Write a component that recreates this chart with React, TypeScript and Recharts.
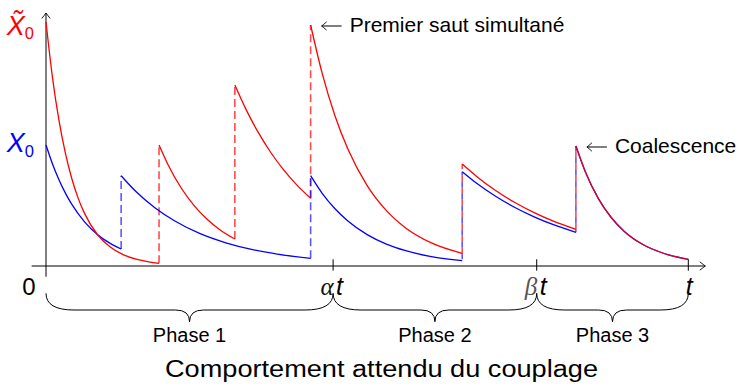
import React from 'react';
import { ComposedChart, Line, XAxis, YAxis, ReferenceLine, ReferenceDot } from 'recharts';

// ---- data (time in % of t, value in chart units) ----
const redSeg1 = [
  { t: 0, v: 244 }, { t: 1, v: 188.9 }, { t: 2, v: 146.3 }, { t: 3, v: 113.3 }, { t: 4, v: 87.7 },
  { t: 5, v: 67.9 }, { t: 6, v: 52.6 }, { t: 8, v: 31.5 }, { t: 10, v: 18.9 }, { t: 12, v: 11.3 },
  { t: 14, v: 6.8 }, { t: 16, v: 4.1 }, { t: 17.6, v: 2.7 },
];
const redSeg2 = [
  { t: 17.6, v: 121 }, { t: 19, v: 101.3 }, { t: 21, v: 78.5 }, { t: 23, v: 60.9 },
  { t: 25, v: 47.2 }, { t: 27, v: 36.6 }, { t: 29.4, v: 27 },
];
const redSeg3 = [
  { t: 29.4, v: 181 }, { t: 31, v: 158.4 }, { t: 33, v: 134.1 }, { t: 35, v: 113.5 },
  { t: 37, v: 96.1 }, { t: 39, v: 81.4 }, { t: 41.2, v: 67.7 },
];
const redSeg4 = [
  { t: 41.2, v: 241 }, { t: 43, v: 192.6 }, { t: 45, v: 150 }, { t: 47, v: 116.9 }, { t: 50, v: 80.4 },
  { t: 53, v: 55.4 }, { t: 56, v: 38.1 }, { t: 60, v: 23.1 }, { t: 64.8, v: 12.7 },
];
const redSeg5 = [
  { t: 64.8, v: 102 }, { t: 67, v: 89.8 }, { t: 70, v: 75.5 }, { t: 73, v: 63.5 },
  { t: 76, v: 53.4 }, { t: 79, v: 44.9 }, { t: 82.5, v: 36.7 },
];
const blueSeg1 = [
  { t: 0, v: 121 }, { t: 1, v: 102.3 }, { t: 2, v: 86.5 }, { t: 3, v: 73.1 }, { t: 4, v: 61.8 },
  { t: 6, v: 44.2 }, { t: 8, v: 31.6 }, { t: 10, v: 22.6 }, { t: 11.7, v: 17 },
];
const blueSeg2 = [
  { t: 11.7, v: 90.3 }, { t: 14, v: 74.5 }, { t: 17, v: 58 }, { t: 20, v: 45.2 }, { t: 24, v: 32.3 },
  { t: 28, v: 23.2 }, { t: 32, v: 16.6 }, { t: 36, v: 11.9 }, { t: 41.2, v: 7.7 },
];
const blueSeg3 = [
  { t: 41.2, v: 90.3 }, { t: 43, v: 72.7 }, { t: 45, v: 57.2 }, { t: 47, v: 45 }, { t: 50, v: 31.4 },
  { t: 53, v: 21.9 }, { t: 56, v: 15.3 }, { t: 60, v: 9.4 }, { t: 64.8, v: 5.3 },
];
const blueSeg4 = [
  { t: 64.8, v: 94.3 }, { t: 67, v: 83 }, { t: 70, v: 69.7 }, { t: 73, v: 58.5 },
  { t: 76, v: 49.2 }, { t: 79, v: 41.3 }, { t: 82.5, v: 33.7 },
];
const commonSeg = [
  { t: 82.5, v: 120 }, { t: 84, v: 93.7 }, { t: 86, v: 67.4 }, { t: 88, v: 48.5 }, { t: 90, v: 34.8 },
  { t: 93, v: 21.2 }, { t: 96, v: 13 }, { t: 100, v: 6.7 },
];
// jumps
const redJumps = [
  [{ t: 17.6, v: 2.7 }, { t: 17.6, v: 121 }],
  [{ t: 29.4, v: 27 }, { t: 29.4, v: 181 }],
  [{ t: 41.2, v: 67.7 }, { t: 41.2, v: 241 }],
  [{ t: 64.8, v: 12.7 }, { t: 64.8, v: 102 }],
  [{ t: 82.5, v: 36.7 }, { t: 82.5, v: 120 }],
];
const blueJumps = [
  [{ t: 11.7, v: 17 }, { t: 11.7, v: 90.3 }],
  [{ t: 41.2, v: 7.7 }, { t: 41.2, v: 90.3 }],
  [{ t: 64.8, v: 5.3 }, { t: 64.8, v: 94.3 }],
  [{ t: 82.5, v: 33.7 }, { t: 82.5, v: 120 }],
];
const blueJumpOffsets = [0, 0, 10.6, 3];

const xTicks = [0, 44.7, 76.4, 100];
const xTickLabels = ['0', 'αt', 'βt', 't'];
const yTicks = [121, 244];
const yTickLabels = ['X', 'X\u0303'];
const phaseBounds = [[0, 44.7], [44.7, 76.4], [76.4, 100]];
const phaseLabels = ['Phase 1', 'Phase 2', 'Phase 3'];
const annotations = [
  { t: 41.2, v: 241, text: 'Premier saut simultané' },
  { t: 82.5, v: 120, text: 'Coalescence' },
];
const title = 'Comportement attendu du couplage';

const SANS = "'Liberation Sans', Arial, Helvetica, sans-serif";
const SERIF = "'Liberation Serif', 'DejaVu Serif', serif";
const RED = '#ff0000';
const BLUE = '#0000ff';

const XTick = (props: any) => {
  const { x, y, payload } = props;
  const i = xTicks.indexOf(payload.value);
  const lab = xTickLabels[i];
  if (i === 0) {
    return (
      <text x={x - 17} y={y + 29} fontSize={24} textAnchor="middle" fontFamily={SANS} fill="#000">
        {lab}
      </text>
    );
  }
  const mark = <line x1={x} x2={x} y1={y - 6.7} y2={y + 4.7} stroke="#000" strokeWidth={1} />;
  if (lab.length === 1) {
    return (
      <g>
        {mark}
        <text x={x + 1} y={y + 29} fontSize={25} textAnchor="middle" fontFamily={SANS} fontStyle="italic" fill="#000">
          {lab}
        </text>
      </g>
    );
  }
  const greek = lab.slice(0, 1);
  return (
    <g>
      {mark}
      <text x={x + 0.5} y={y + 29} fontSize={25} textAnchor="end" fontFamily={SERIF} fontStyle="italic" fill={greek === 'β' ? '#555' : '#111'}>
        {greek}
      </text>
      <text x={x + 3} y={y + 29} fontSize={25} textAnchor="start" fontFamily={SANS} fontStyle="italic" fill="#000">
        {lab.slice(1)}
      </text>
    </g>
  );
};

const YTick = (props: any) => {
  const { x, y, payload } = props;
  const i = yTicks.indexOf(payload.value);
  const tilde = i === 1;
  const color = tilde ? RED : BLUE;
  return (
    <text x={x - 12} y={y + (tilde ? 13 : 6.7)} fill={color} fontFamily={SANS} textAnchor="end">
      <tspan fontSize={27} fontStyle="italic">{yTickLabels[i]}</tspan>
      <tspan fontSize={16.5} dy={tilde ? 4.3 : 5}>0</tspan>
    </text>
  );
};

const ArrowLine = (p: any) => {
  const { x1, y1, x2, y2 } = p;
  const ang = Math.atan2(y2 - y1, x2 - x1);
  const L = 5.5;
  const W = 4.2;
  const bx = x2 - L * Math.cos(ang);
  const by = y2 - L * Math.sin(ang);
  const px = -Math.sin(ang) * W;
  const py = Math.cos(ang) * W;
  const cx = x2 - 1.5 * Math.cos(ang);
  const cy = y2 - 1.5 * Math.sin(ang);
  return (
    <g>
      <line x1={x1} y1={y1} x2={x2} y2={y2} stroke="#000" strokeWidth={1} />
      <path
        d={`M${bx + px},${by + py} Q${cx + px * 0.25},${cy + py * 0.25} ${x2},${y2} Q${cx - px * 0.25},${cy - py * 0.25} ${bx - px},${by - py}`}
        fill="none"
        stroke="#000"
        strokeWidth={0.9}
      />
    </g>
  );
};

const Brace = (p: any) => {
  const { x1, x2, y1, label } = p;
  const mid = (x1 + x2) / 2;
  const yb = y1 + 16.7;
  const yt = y1 + 28.4;
  const r1 = Math.min(28, (x2 - x1) / 5);
  const r2 = 14;
  const d = `M${x1},${y1} Q${x1},${yb} ${x1 + r1},${yb} L${mid - r2},${yb} Q${mid},${yb} ${mid},${yt} Q${mid},${yb} ${mid + r2},${yb} L${x2 - r1},${yb} Q${x2},${yb} ${x2},${y1}`;
  return (
    <g>
      <path d={d} fill="none" stroke="#000" strokeWidth={1} />
      <text x={mid} y={y1 + 48.4} textAnchor="middle" fontSize={20} fontFamily={SANS} fill="#000">
        {label}
      </text>
    </g>
  );
};

const AnnLabel = (props: any) => {
  const { viewBox, text } = props;
  const x = viewBox.x + (viewBox.width || 0) / 2;
  const y = viewBox.y + (viewBox.height || 0) / 2;
  const ay = y + 1;
  const a0 = x + 11;
  const a1 = x + 31;
  return (
    <g>
      <line x1={a0} y1={ay} x2={a1} y2={ay} stroke="#000" strokeWidth={1} />
      <path
        d={`M${a0 + 5},${ay - 4.2} Q${a0 + 1.5},${ay - 1} ${a0},${ay} Q${a0 + 1.5},${ay + 1} ${a0 + 5},${ay + 4.2}`}
        fill="none"
        stroke="#000"
        strokeWidth={0.9}
      />
      <text x={x + 39} y={y + 7.3} fontSize={21} fontFamily={SANS} fill="#000">
        {text}
      </text>
    </g>
  );
};

export default function App() {
  return (
    <div style={{ position: 'absolute', left: 0, top: 0, width: 738, height: 388, background: '#fff', fontFamily: SANS }}>
      <ComposedChart width={738} height={388} margin={{ top: 16, right: 49.7, bottom: 92, left: 0 }}>
        <XAxis
          type="number"
          dataKey="t"
          domain={[0, 100]}
          ticks={xTicks}
          interval={0}
          axisLine={false}
          tickLine={false}
          tickSize={0}
          tickMargin={0}
          height={30}
          tick={<XTick />}
        />
        <YAxis
          type="number"
          domain={[0, 250]}
          ticks={yTicks}
          interval={0}
          axisLine={false}
          tickLine={false}
          tickSize={0}
          tickMargin={0}
          width={46}
          tick={<YTick />}
        />
        <ReferenceLine segment={[{ x: -2.23, y: 0 }, { x: 102.65, y: 0 }]} ifOverflow="visible" shape={ArrowLine} />
        <ReferenceLine segment={[{ x: 0, y: -10.7 }, { x: 0, y: 253 }]} ifOverflow="visible" shape={ArrowLine} />
        {phaseBounds.map((b, i) => (
          <ReferenceLine
            key={'brace' + i}
            segment={[{ x: b[0], y: -27.3 }, { x: b[1], y: -27.3 }]}
            ifOverflow="visible"
            shape={(p: any) => <Brace {...p} label={phaseLabels[i]} />}
          />
        ))}
        {redJumps.map((d, i) => (
          <Line
            key={'rj' + i}
            data={d}
            dataKey="v"
            type="linear"
            stroke={RED}
            strokeOpacity={0.7}
            strokeWidth={1.6}
            strokeDasharray={i >= 3 ? '6 6' : '8 4'}
            dot={false}
            isAnimationActive={false}
          />
        ))}
        {blueJumps.map((d, i) => (
          <Line
            key={'bj' + i}
            data={d}
            dataKey="v"
            type="linear"
            stroke={BLUE}
            strokeOpacity={0.65}
            strokeWidth={1.6}
            strokeDasharray={i >= 2 ? '6 6' : '8 4'}
            strokeDashoffset={blueJumpOffsets[i]}
            dot={false}
            isAnimationActive={false}
          />
        ))}
        {[blueSeg1, blueSeg2, blueSeg3, blueSeg4, commonSeg].map((d, i) => (
          <Line key={'b' + i} data={d} dataKey="v" type="monotone" stroke={BLUE} strokeWidth={1.3} dot={false} isAnimationActive={false} />
        ))}
        {[redSeg1, redSeg2, redSeg3, redSeg4, redSeg5].map((d, i) => (
          <Line key={'r' + i} data={d} dataKey="v" type="monotone" stroke={RED} strokeWidth={1.3} dot={false} isAnimationActive={false} />
        ))}
        <Line data={commonSeg} dataKey="v" type="monotone" stroke={RED} strokeOpacity={0.85} strokeWidth={1.3} dot={false} isAnimationActive={false} />
        {annotations.map((a, i) => (
          <ReferenceDot
            key={'ann' + i}
            x={a.t}
            y={a.v}
            r={0}
            fill="none"
            stroke="none"
            label={<AnnLabel text={a.text} />}
          />
        ))}
      </ComposedChart>
      <svg width={738} height={388} style={{ position: 'absolute', left: 0, top: 0, pointerEvents: 'none' }}>
        <text x={381.5} y={376.5} textAnchor="middle" fontSize={23} fontFamily={SANS} fill="#000" textLength={433} lengthAdjust="spacingAndGlyphs">
          {title}
        </text>
      </svg>
    </div>
  );
}
